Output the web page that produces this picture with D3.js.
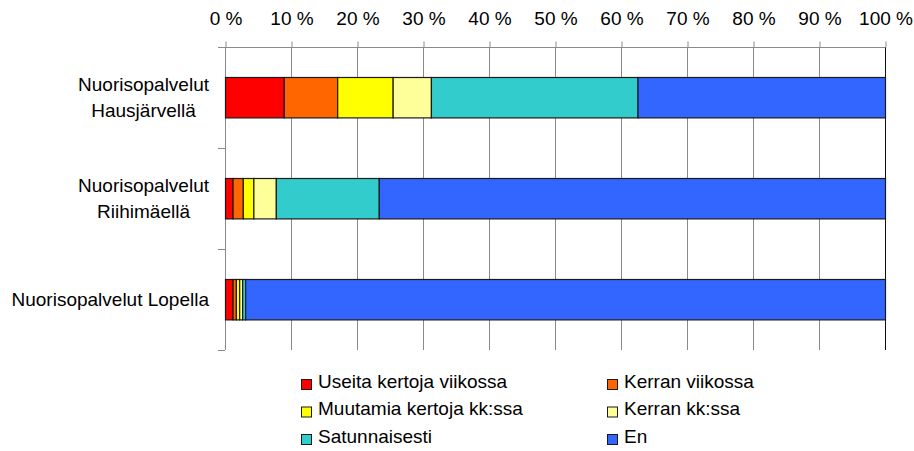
<!DOCTYPE html>
<html>
<head>
<meta charset="utf-8">
<script src="https://cdn.jsdelivr.net/npm/d3@7"></script>
<style>
  body { margin: 0; background: #fff; }
  svg { font-family: "Liberation Sans", Arial, sans-serif; font-size: 19px; }
</style>
</head>
<body>
<script>
// categories (top to bottom) and answer classes
var categories = ["Nuorisopalvelut\nHausjärvellä", "Nuorisopalvelut\nRiihimäellä", "Nuorisopalvelut Lopella"];
var seriesNames = ["Useita kertoja viikossa", "Kerran viikossa", "Muutamia kertoja kk:ssa", "Kerran kk:ssa", "Satunnaisesti", "En"];
var seriesColors = ["#ff0000", "#ff6600", "#ffff00", "#ffff99", "#33cccc", "#3366ff"];

// shares in percent, one value per category
var useitaViikossa = [8.9, 1.15, 1.15];
var kerranViikossa = [8.1, 1.55, 0.5];
var muutamiaKk = [8.4, 1.6, 0.5];
var kerranKk = [5.8, 3.4, 0.45];
var satunnaisesti = [31.3, 15.6, 0.45];
var en = [37.5, 76.7, 96.95];

var tickValues = [0, 10, 20, 30, 40, 50, 60, 70, 80, 90, 100];

var seriesValues = [useitaViikossa, kerranViikossa, muutamiaKk, kerranKk, satunnaisesti, en];

var table = categories.map(function(c, i) {
  var row = {cat: c};
  seriesNames.forEach(function(s, j) { row[s] = seriesValues[j][i]; });
  return row;
});

var margin = {top: 47, left: 225, right: 29, bottom: 101},
    width = 914 - margin.left - margin.right,
    height = 451 - margin.top - margin.bottom;

var svg = d3.select("body").append("svg")
  .attr("width", 914)
  .attr("height", 451)
  .append("g")
  .attr("transform", "translate(" + margin.left + "," + margin.top + ")");

var x = d3.scaleLinear().domain([0, 100]).range([0, width]);
var y = d3.scaleBand().domain(categories).range([0, height]).paddingInner(0.6).paddingOuter(0.3);
var color = d3.scaleOrdinal().domain(seriesNames).range(seriesColors);

// vertical gridlines
svg.selectAll(".grid")
  .data(tickValues.slice(1))
  .enter().append("line")
  .attr("class", "grid")
  .attr("x1", function(d) { return x(d) + 0.5; })
  .attr("x2", function(d) { return x(d) + 0.5; })
  .attr("y1", 0)
  .attr("y2", height)
  .attr("stroke", function(d) { return d === 100 ? "#111" : "#8a8a8a"; })
  .attr("stroke-width", 1);

// top x axis
var xAxis = svg.append("g")
  .attr("transform", "translate(0.5,0.5)")
  .call(d3.axisTop(x).tickValues(tickValues).tickSize(6).tickPadding(17)
    .tickFormat(function(d) { return d + " %"; }));
xAxis.select(".domain").attr("stroke", "#8a8a8a").attr("d", "M-7,0H" + width);
xAxis.selectAll(".tick line").attr("stroke", "#8a8a8a");
xAxis.selectAll(".tick text").attr("fill", "#000").style("font-size", "19px").style("font-family", "Liberation Sans, Arial, sans-serif");

// left axis line with ticks at band boundaries
svg.append("line")
  .attr("x1", 0.5).attr("x2", 0.5).attr("y1", 0).attr("y2", height)
  .attr("stroke", "#8a8a8a");
svg.selectAll(".ytick")
  .data(d3.range(categories.length + 1))
  .enter().append("line")
  .attr("class", "ytick")
  .attr("x1", -7).attr("x2", 0)
  .attr("y1", function(i) { return Math.round(i * y.step()) + 0.5; })
  .attr("y2", function(i) { return Math.round(i * y.step()) + 0.5; })
  .attr("stroke", "#8a8a8a");

// stacked bars
var stacked = d3.stack().keys(seriesNames)(table);

svg.selectAll(".series")
  .data(stacked)
  .enter().append("g")
  .attr("class", "series")
  .attr("fill", function(d) { return color(d.key); })
  .selectAll("rect")
  .data(function(d) { return d; })
  .enter().append("rect")
  .attr("x", function(d) { return x(d[0]) + 0.5; })
  .attr("width", function(d) { return x(d[1]) - x(d[0]); })
  .attr("y", function(d) { return Math.round(y(d.data.cat)) + 0.5; })
  .attr("height", y.bandwidth())
  .attr("stroke", "#1a1a1a")
  .attr("stroke-width", 1.2);

// category labels
var labelRight = -16;
categories.forEach(function(c) {
  var lines = c.split("\n");
  var g = svg.append("g");
  var texts = g.selectAll("text")
    .data(lines)
    .enter().append("text")
    .attr("y", function(d, i) { return y(c) + y.bandwidth() / 2 + (i - (lines.length - 1) / 2) * 25.6; })
    .attr("dy", "0.35em")
    .attr("text-anchor", "middle")
    .text(function(d) { return d; });
  var maxW = 0;
  texts.each(function() { maxW = Math.max(maxW, this.getComputedTextLength()); });
  texts.attr("x", labelRight - maxW / 2);
});

// legend
var legend = svg.append("g")
  .attr("transform", "translate(" + (301 - margin.left) + "," + (379 - margin.top) + ")");

var item = legend.selectAll(".legend")
  .data(seriesNames)
  .enter().append("g")
  .attr("class", "legend")
  .attr("transform", function(d, i) { return "translate(" + (i % 2) * 306 + "," + Math.floor(i / 2) * 27.5 + ")"; });

item.append("rect")
  .attr("x", 0.5).attr("y", 0.5)
  .attr("width", 10).attr("height", 10)
  .attr("fill", color)
  .attr("stroke", "#1a1a1a");

item.append("text")
  .attr("x", 17)
  .attr("y", 8.5)
  .text(function(d) { return d; });
</script>
</body>
</html>
